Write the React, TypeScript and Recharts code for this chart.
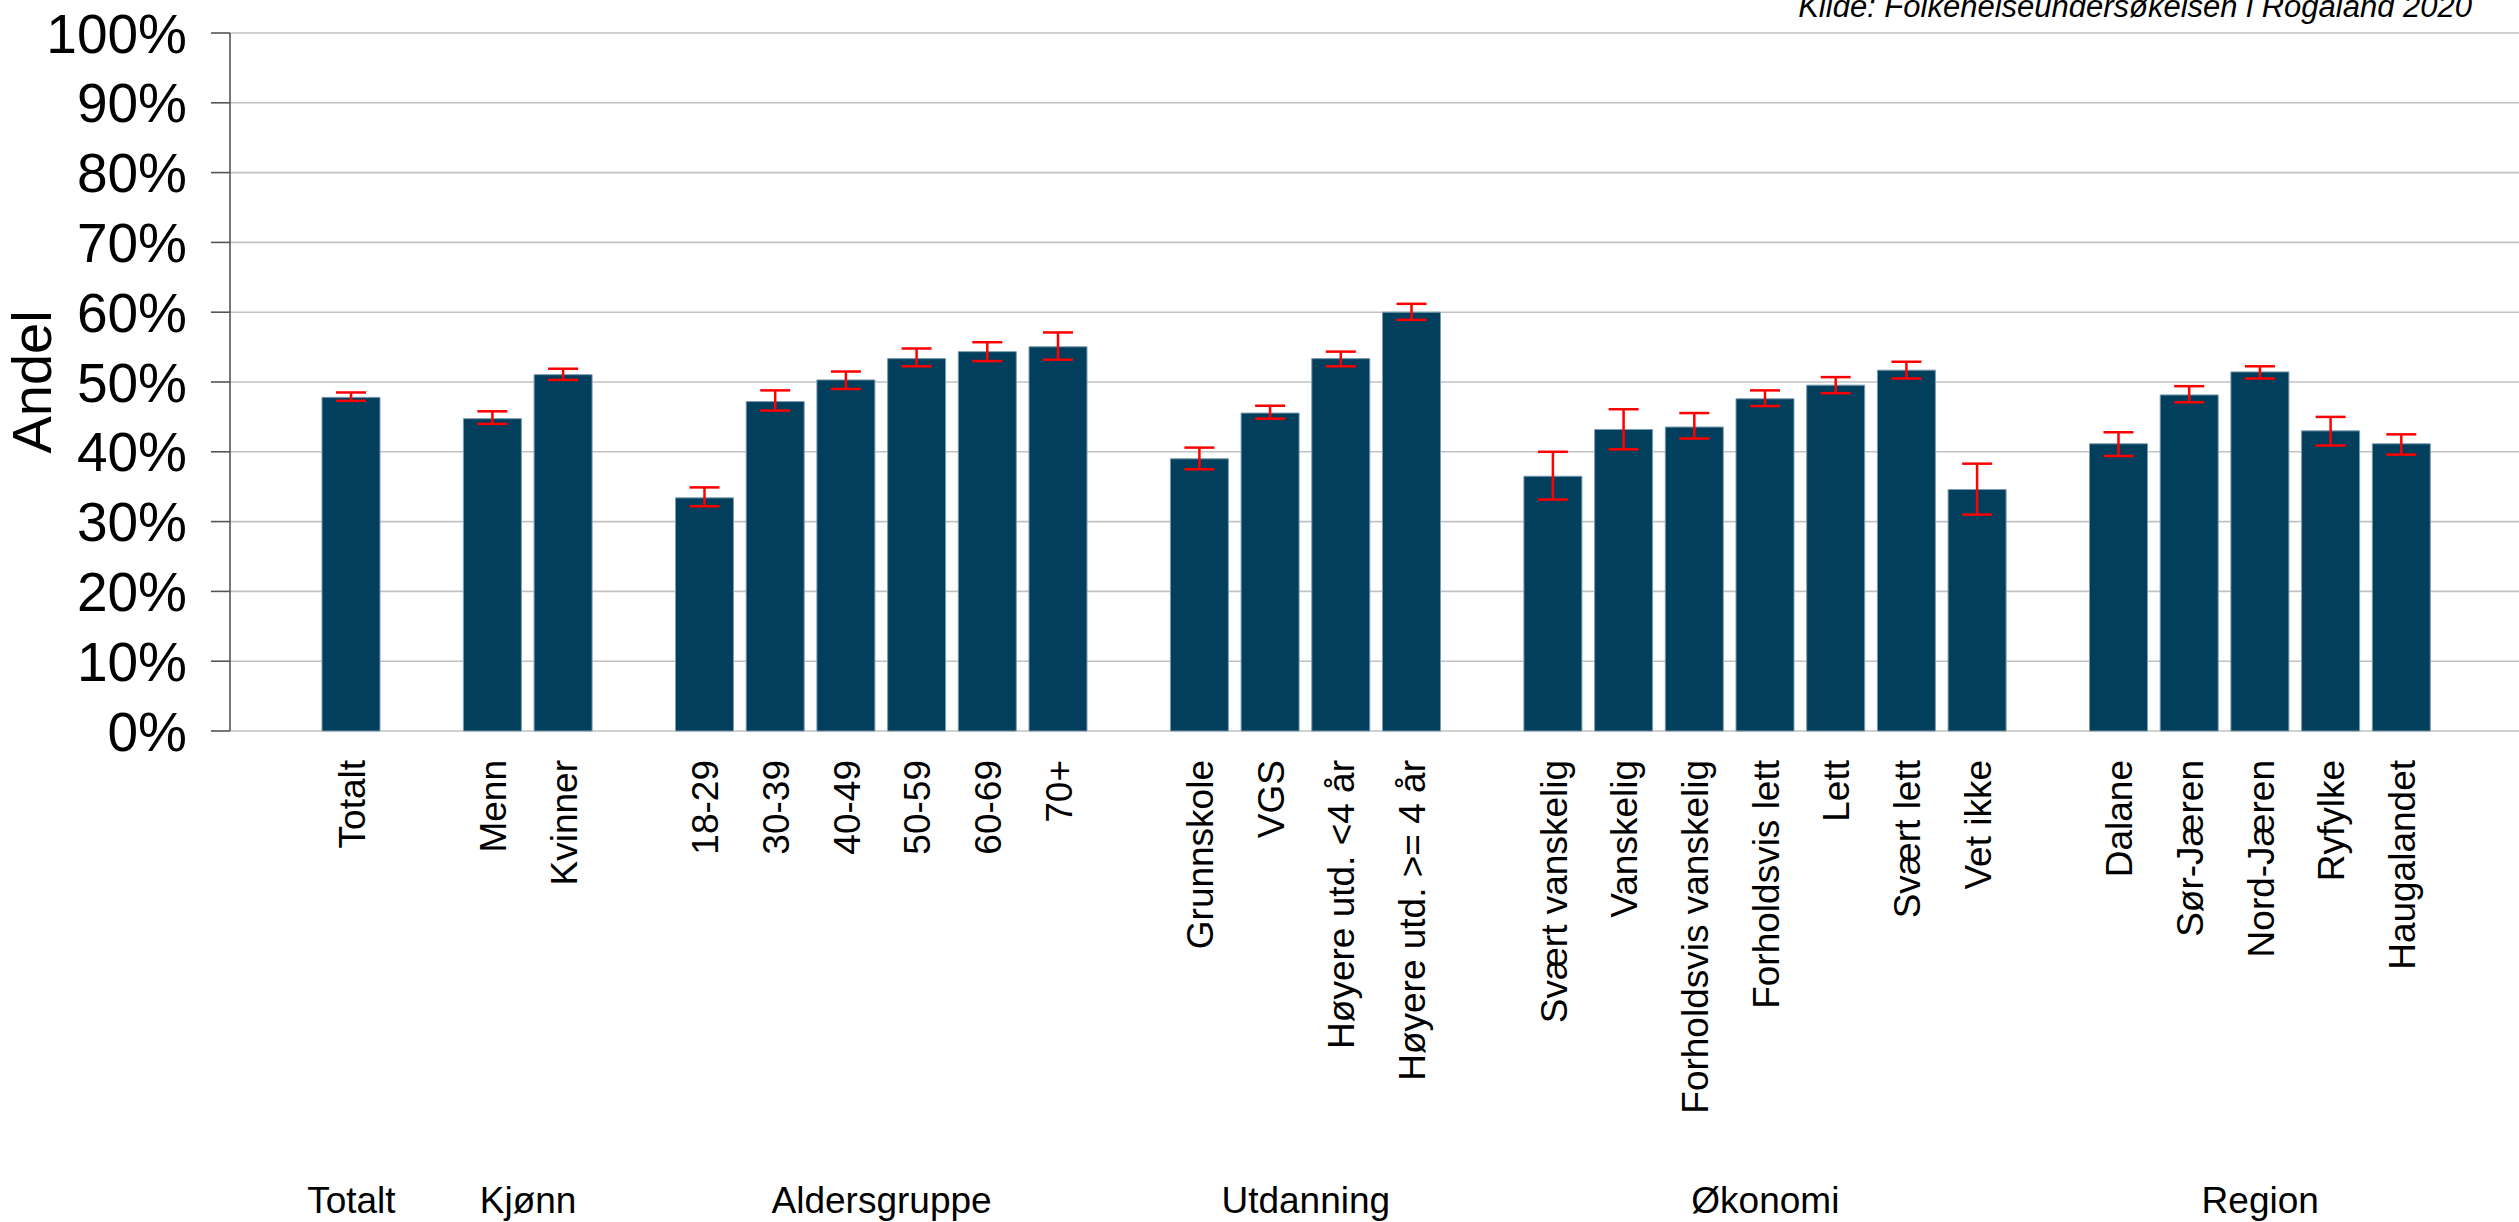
import React from 'react';
import { BarChart, Bar, XAxis, YAxis, CartesianGrid, ErrorBar } from 'recharts';

const FONT = '"Liberation Sans", Arial, sans-serif';

// Category labels ('' = spacer between groups)
const categories: string[] = [
  'Totalt', '',
  'Menn', 'Kvinner', '',
  '18-29', '30-39', '40-49', '50-59', '60-69', '70+', '',
  'Grunnskole', 'VGS', 'Høyere utd. <4 år', 'Høyere utd. >= 4 år', '',
  'Svært vanskelig', 'Vanskelig', 'Forholdsvis vanskelig', 'Forholdsvis lett', 'Lett', 'Svært lett', 'Vet ikke', '',
  'Dalane', 'Sør-Jæren', 'Nord-Jæren', 'Ryfylke', 'Haugalandet',
];

// Share (%) per category
const values: (number | null)[] = [
  47.8, null,
  44.75, 51.05, null,
  33.4, 47.2, 50.3, 53.35, 54.35, 55.05, null,
  39.0, 45.55, 53.35, 60.0, null,
  36.5, 43.2, 43.55, 47.6, 49.55, 51.7, 34.6, null,
  41.15, 48.15, 51.45, 43.0, 41.15,
];

// Confidence interval lower / upper bounds (%)
const lower: (number | null)[] = [
  47.3, null,
  44.0, 50.3, null,
  32.2, 45.9, 49.0, 52.25, 53.0, 53.2, null,
  37.5, 44.75, 52.25, 58.9, null,
  33.15, 40.35, 41.9, 46.55, 48.4, 50.5, 31.0, null,
  39.4, 47.1, 50.5, 40.9, 39.6,
];
const upper: (number | null)[] = [
  48.5, null,
  45.8, 51.9, null,
  34.9, 48.8, 51.5, 54.8, 55.7, 57.1, null,
  40.6, 46.6, 54.35, 61.2, null,
  40.0, 46.1, 45.55, 48.8, 50.7, 52.9, 38.3, null,
  42.8, 49.4, 52.25, 45.0, 42.5,
];

// Group labels and the category index range they span
const groupNames = ['Totalt', 'Kjønn', 'Aldersgruppe', 'Utdanning', 'Økonomi', 'Region'];
const groupFirst = [0, 2, 5, 12, 17, 25];
const groupLast = [0, 3, 10, 15, 23, 29];

const yTicks = [0, 10, 20, 30, 40, 50, 60, 70, 80, 90, 100];

const sourceText = 'Kilde: Folkehelseundersøkelsen i Rogaland 2020';

const data = categories.map((label, i) => {
  const v = values[i];
  const lo = lower[i];
  const hi = upper[i];
  return {
    key: `c${i}`,
    label,
    idx: i,
    value: v,
    err: v != null && lo != null && hi != null ? [v - lo, hi - v] : undefined,
  };
});

const labelByKey: Record<string, string> = {};
data.forEach((d) => { labelByKey[d.key] = d.label; });

const groupCenters = groupNames.map((_, g) => (groupFirst[g] + groupLast[g]) / 2);
const groupByCenter: Record<string, string> = {};
groupCenters.forEach((c, g) => { groupByCenter[String(c)] = groupNames[g]; });

// group axis (91px) sits directly under the plot, category axis below it
const CategoryTick = (props: any) => {
  const { x, y, payload } = props;
  const text = labelByKey[payload.value] || '';
  if (!text) return null;
  return (
    <g transform={`translate(${x},${y - 62})`}>
      <text
        transform="rotate(-90)"
        textAnchor="end"
        dy="0.36em"
        fontSize={37}
        fontFamily={FONT}
        fill="#000"
      >
        {text}
      </text>
    </g>
  );
};

const GroupTick = (props: any) => {
  const { x, y, payload } = props;
  const text = groupByCenter[String(payload.value)] || '';
  return (
    <text x={x} y={y + 482} textAnchor="middle" fontSize={37} fontFamily={FONT} fill="#000">
      {text}
    </text>
  );
};

const AxisTitle = (props: any) => {
  const vb = props.viewBox || { x: 0, y: 0, width: 0, height: 0 };
  const cx = vb.x + 51;
  const cy = vb.y + vb.height / 2;
  return (
    <text
      transform={`translate(${cx},${cy}) rotate(-90)`}
      textAnchor="middle"
      fontSize={56}
      fontFamily={FONT}
      fill="#000"
    >
      Andel
    </text>
  );
};

export default function App() {
  return (
    <div style={{ position: 'absolute', left: 0, top: 0, width: 2519, height: 1222, background: '#fff' }}>
      <BarChart
        width={2519}
        height={1222}
        data={data}
        margin={{ top: 33, right: 0, bottom: 0, left: 0 }}
        barSize={58}
      >
        <CartesianGrid vertical={false} stroke="#c2c2c2" strokeWidth={1.6} />
        <XAxis
          xAxisId="main"
          dataKey="key"
          type="category"
          interval={0}
          height={400}
          padding={{ left: 86, right: 82 }}
          axisLine={false}
          tickLine={false}
          tickSize={0}
          tickMargin={0}
          tick={<CategoryTick />}
        />
        <XAxis
          xAxisId="grp"
          dataKey="idx"
          type="number"
          domain={[-0.5, 29.5]}
          ticks={groupCenters}
          interval={0}
          height={91}
          padding={{ left: 86, right: 82 }}
          axisLine={false}
          tickLine={false}
          tickSize={0}
          tickMargin={0}
          allowDecimals
          tick={<GroupTick />}
        />
        <YAxis
          type="number"
          domain={[0, 100]}
          ticks={yTicks}
          interval={0}
          width={230}
          tickSize={19}
          tickMargin={24}
          tickFormatter={(v: number) => `${v}%`}
          axisLine={{ stroke: '#555', strokeWidth: 1.6 }}
          tickLine={{ stroke: '#555', strokeWidth: 1.6 }}
          tick={{ fontSize: 55, fill: '#000', fontFamily: FONT }}
          label={<AxisTitle />}
        />
        <Bar
          xAxisId="main"
          dataKey="value"
          fill="#023F5C"
          stroke="#7c9cb0"
          strokeWidth={1}
          isAnimationActive={false}
        >
          <ErrorBar dataKey="err" width={15} stroke="#ff0000" strokeWidth={2.5} />
        </Bar>
        <text
          x={2472}
          y={17}
          textAnchor="end"
          fontSize={31}
          fontStyle="italic"
          fontFamily={FONT}
          fill="#000"
        >
          {sourceText}
        </text>
      </BarChart>
    </div>
  );
}
